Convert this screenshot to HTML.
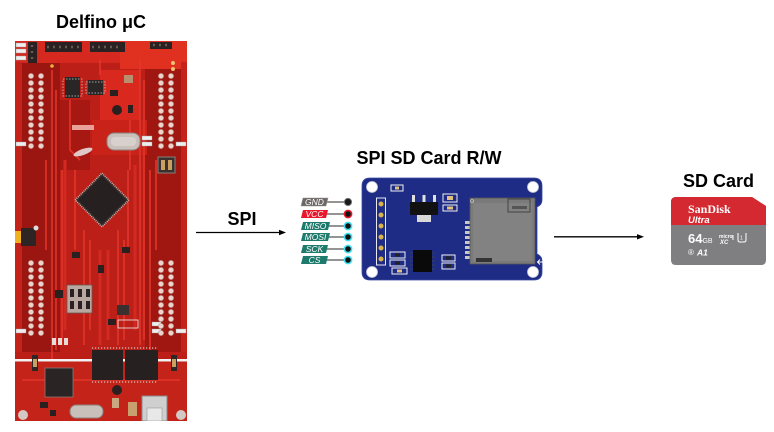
<!DOCTYPE html>
<html>
<head>
<meta charset="utf-8">
<style>
html,body{margin:0;padding:0;background:#fff;}
body{width:774px;height:432px;overflow:hidden;position:relative;}
svg{position:absolute;left:0;top:0;display:block;}
.t{font-family:"Liberation Sans",Arial,sans-serif;font-weight:bold;font-size:18px;fill:#000;}
.pl{font-family:"Liberation Sans",Arial,sans-serif;font-style:italic;font-size:8.5px;fill:#fff;}
</style>
</head>
<body>
<svg width="774" height="432" viewBox="0 0 774 432" xmlns="http://www.w3.org/2000/svg">
<defs>
<clipPath id="sdclip"><path d="M676,197 H752 L766,206 V260 Q766,265 761,265 H676 Q671,265 671,260 V202 Q671,197 676,197 Z"/></clipPath>
<clipPath id="bc"><rect x="15" y="41" width="172" height="380"/></clipPath>
<pattern id="pinA" patternUnits="userSpaceOnUse" x="26" y="72.5" width="10" height="7"><circle cx="5" cy="3.5" r="2.6" fill="#ecd3cc" stroke="#b79088" stroke-width="0.6"/></pattern>
<pattern id="pinB" patternUnits="userSpaceOnUse" x="26" y="259.5" width="10" height="7"><circle cx="5" cy="3.5" r="2.6" fill="#ecd3cc" stroke="#b79088" stroke-width="0.6"/></pattern>
</defs>

<text class="t" x="101" y="28" text-anchor="middle">Delfino μC</text>
<text class="t" x="242" y="225" text-anchor="middle">SPI</text>
<text class="t" x="429" y="164" text-anchor="middle">SPI SD Card R/W</text>
<text class="t" x="718.5" y="187" text-anchor="middle">SD Card</text>

<line x1="196" y1="232.5" x2="280" y2="232.5" stroke="#000" stroke-width="1.3"/>
<polygon points="286,232.5 279,229.8 279,235.2" fill="#000"/>
<line x1="554" y1="236.8" x2="638" y2="236.8" stroke="#000" stroke-width="1.3"/>
<polygon points="644,236.8 637,234.1 637,239.5" fill="#000"/>

<g clip-path="url(#bc)">
<rect x="15" y="41" width="172" height="380" fill="#bb1f18"/>
<rect x="22" y="62" width="38" height="290" fill="#9c1611"/>
<rect x="145" y="62" width="36" height="290" fill="#a01712"/>
<rect x="60" y="100" width="30" height="70" fill="#a81812"/>
<rect x="15" y="362" width="172" height="59" fill="#c4231a"/>
<rect x="15" y="41" width="172" height="22" fill="#d5291f"/>
<rect x="120" y="41" width="67" height="28" fill="#e0301f"/>
<rect x="100" y="70" width="40" height="55" fill="#d9291e"/>
<rect x="92" y="120" width="55" height="35" fill="#c82219"/>
<rect x="15" y="62" width="7" height="290" fill="#c52219"/>
<rect x="181" y="62" width="6" height="290" fill="#c52219"/>
<path d="M52,70V360 M56,90V350 M62,170V345 M140,60V345 M144,80V340 M150,170V350 M84,230V345 M90,240V330 M118,230V345 M124,240V340 M70,100V150L80,160 M130,170V120 M100,60V75 M22,380H180 M75,170V250 M128,170V250 M46,160V250 M156,160V250" stroke="#e2352a" stroke-width="1.6" fill="none"/>
<path d="M65,160V330 M135,165V330 M100,250V345 M108,250V340" stroke="#d22a20" stroke-width="3" fill="none"/>

<rect x="45" y="42" width="37" height="10" fill="#2a2222"/>
<rect x="90" y="42" width="35" height="10" fill="#2a2222"/>
<rect x="150" y="42" width="22" height="7" fill="#2a2222"/>
<rect x="28" y="42" width="9" height="21" fill="#2a2222"/>
<path d="M47,47H81 M92,47H120 M153,45H170 M32,45V61" stroke="#6a5a50" stroke-width="2.4" stroke-dasharray="2 4" fill="none"/>
<g fill="#eee" stroke="#999" stroke-width="0.4">
<rect x="16" y="43" width="10" height="4"/><rect x="16" y="49" width="10" height="4"/><rect x="16" y="56" width="10" height="4"/>
<rect x="16" y="142" width="10" height="4"/><rect x="142" y="136" width="10" height="4"/><rect x="142" y="142" width="10" height="4"/>
<rect x="176" y="142" width="10" height="4"/><rect x="16" y="329" width="10" height="4"/><rect x="152" y="322" width="9" height="4"/>
<rect x="152" y="329" width="9" height="4"/><rect x="176" y="329" width="10" height="4"/>
</g>
<circle cx="52" cy="66" r="1.8" fill="#e8b040"/>
<circle cx="173" cy="63" r="2" fill="#f0c070"/>
<circle cx="173" cy="69" r="2" fill="#f0c070"/>

<rect x="26" y="72.5" width="20" height="77" fill="url(#pinA)"/>
<rect x="156" y="72.5" width="20" height="77" fill="url(#pinA)"/>
<rect x="26" y="259.5" width="20" height="77" fill="url(#pinB)"/>
<rect x="156" y="259.5" width="20" height="77" fill="url(#pinB)"/>

<rect x="65" y="77" width="15" height="21" fill="#2b2626"/>
<rect x="63" y="79" width="19" height="17" fill="none" stroke="#ccc" stroke-width="0.8" stroke-dasharray="1.5 1.5"/>
<rect x="88" y="80" width="15" height="15" fill="#2b2626"/>
<rect x="86" y="82" width="19" height="11" fill="none" stroke="#ccc" stroke-width="0.8" stroke-dasharray="1.5 1.5"/>
<rect x="124" y="75" width="9" height="8" fill="#b89070"/>
<circle cx="117" cy="110" r="5" fill="#2a2020"/>
<rect x="110" y="90" width="8" height="6" fill="#2a2020"/>
<rect x="128" y="105" width="5" height="8" fill="#2a2020"/>
<rect x="107" y="133" width="33" height="17" rx="7" fill="#c9c0bc" stroke="#8a807c" stroke-width="1"/>
<rect x="111" y="137" width="25" height="9" rx="4" fill="#d8d0cc"/>
<rect x="72" y="125" width="22" height="5" fill="#e8a098"/>
<ellipse cx="83" cy="152" rx="10" ry="3" fill="#e0c8c8" transform="rotate(-20 83 152)"/>
<rect x="158" y="157" width="17" height="16" fill="#3a3030" stroke="#8b7f78" stroke-width="1"/>
<rect x="161" y="160" width="4" height="10" fill="#c8a060"/>
<rect x="168" y="160" width="4" height="10" fill="#c8a060"/>

<g transform="rotate(45 102 200)">
<rect x="83" y="181" width="38" height="38" fill="#3a2e2e" stroke="#c8b8b0" stroke-width="1.5" stroke-dasharray="1 1"/>
<rect x="85" y="183" width="34" height="34" fill="#262020"/>
</g>

<rect x="15" y="231" width="7" height="12" fill="#f0b020"/>
<rect x="21" y="228" width="15" height="18" fill="#2e2424"/>
<circle cx="36" cy="228" r="2.5" fill="#ddd"/>
<rect x="72" y="252" width="8" height="6" fill="#2a2020"/>
<rect x="98" y="265" width="6" height="8" fill="#2a2020"/>
<rect x="122" y="247" width="8" height="6" fill="#2a2020"/>
<rect x="55" y="290" width="8" height="8" fill="#2a2020"/>
<rect x="67" y="285" width="25" height="28" fill="#b8a8a0" stroke="#6a5a55" stroke-width="0.8"/>
<path d="M72,289V297 M80,289V297 M88,289V297 M72,301V309 M80,301V309 M88,301V309" stroke="#2a2222" stroke-width="4"/>
<path d="M54,338V345 M60,338V345 M66,338V345" stroke="#e8dcd8" stroke-width="4"/>
<rect x="117" y="305" width="12" height="10" fill="#3a3030"/>
<rect x="108" y="319" width="8" height="6" fill="#2a2020"/>
<rect x="118" y="320" width="20" height="8" fill="none" stroke="#eee" stroke-width="0.8"/>

<rect x="15" y="359" width="172" height="2.5" fill="#f2f2f2"/>
<rect x="92" y="350" width="31" height="30" fill="#262020"/>
<rect x="125" y="350" width="33" height="30" fill="#262020"/>
<path d="M92,348H158 M92,382H158" stroke="#d0c8c0" stroke-width="1.2" stroke-dasharray="1.2 1.8"/>
<rect x="32" y="355" width="6" height="16" fill="#2e2626"/>
<rect x="33" y="359" width="4" height="8" fill="#c8a060"/>
<rect x="171" y="355" width="6" height="16" fill="#2e2626"/>
<rect x="172" y="359" width="4" height="8" fill="#c8a060"/>
<rect x="45" y="368" width="28" height="29" fill="#2a2424" stroke="#8a7a76" stroke-width="0.8"/>
<circle cx="117" cy="390" r="5" fill="#2a2020"/>
<rect x="112" y="398" width="7" height="10" fill="#c8a880"/>
<rect x="128" y="402" width="9" height="14" fill="#c8a070"/>
<rect x="70" y="405" width="33" height="13" rx="6" fill="#c9c0bc" stroke="#8a807c" stroke-width="1"/>
<rect x="142" y="396" width="25" height="25" fill="#cfcfcf" stroke="#8a8a8a" stroke-width="1"/>
<rect x="147" y="408" width="15" height="13" fill="#e8e8e8" stroke="#999" stroke-width="0.6"/>
<circle cx="23" cy="415" r="5" fill="#d4c8c4"/>
<circle cx="181" cy="415" r="5" fill="#d4c8c4"/>
<rect x="40" y="402" width="8" height="6" fill="#2a2020"/>
<rect x="50" y="410" width="6" height="6" fill="#2a2020"/>
</g>

<path d="M326,202H348 M326,214H348 M328,226H348 M328,237H348 M326,249H348 M326,260H348" stroke="#555" stroke-width="1.2"/>
<polygon points="303,198 328,198 326,206 301,206" fill="#6b6665" stroke="#9a9694" stroke-width="0.6"/>
<polygon points="303,210 328,210 326,218 301,218" fill="#e8172c"/>
<polygon points="303,222 330,222 328,230 301,230" fill="#1e7a6c"/>
<polygon points="303,233 330,233 328,241 301,241" fill="#1e7a6c"/>
<polygon points="303,245 328,245 326,253 301,253" fill="#1e7a6c"/>
<polygon points="303,256 328,256 326,264 301,264" fill="#1e7a6c"/>
<text class="pl" x="314.5" y="205.2" text-anchor="middle">GND</text>
<text class="pl" x="314.5" y="217.2" text-anchor="middle">VCC</text>
<text class="pl" x="315.5" y="229.2" text-anchor="middle">MISO</text>
<text class="pl" x="315.5" y="240.2" text-anchor="middle">MOSI</text>
<text class="pl" x="314.5" y="252.2" text-anchor="middle">SCK</text>
<text class="pl" x="314.5" y="263.2" text-anchor="middle">CS</text>
<circle cx="348" cy="202" r="3.6" fill="#1a1a1a" stroke="#777" stroke-width="1"/>
<circle cx="348" cy="214" r="3.6" fill="#111" stroke="#e8172c" stroke-width="1.6"/>
<g fill="#111" stroke="#3fe0f0" stroke-width="1.6">
<circle cx="348" cy="226" r="3.6"/><circle cx="348" cy="237" r="3.6"/><circle cx="348" cy="249" r="3.6"/><circle cx="348" cy="260" r="3.6"/>
</g>

<path d="M370,178 H534 Q542,178 542,186 V200 Q542,205 537,207 V254 Q542,256 542,261 V272 Q542,280 534,280 H370 Q362,280 362,272 V186 Q362,178 370,178 Z" fill="#1e2c86" stroke="#3a4aa0" stroke-width="0.8"/>
<g fill="#fff" stroke="#c8c8d8" stroke-width="0.8">
<circle cx="372" cy="187" r="5.5"/><circle cx="533" cy="187" r="5.5"/><circle cx="372" cy="272" r="5.5"/><circle cx="533" cy="272" r="5.5"/>
</g>
<rect x="376.5" y="198" width="9" height="67" fill="none" stroke="#e8e8f0" stroke-width="1"/>
<path d="M381,204V259.5" stroke="#d8b24a" stroke-width="5" stroke-linecap="round" stroke-dasharray="0 11"/>
<rect x="412" y="195" width="3" height="7" fill="#e0e0e0"/>
<rect x="422.5" y="195" width="3" height="7" fill="#e0e0e0"/>
<rect x="433" y="195" width="3" height="7" fill="#e0e0e0"/>
<rect x="410" y="202" width="28" height="13" fill="#111"/>
<rect x="417" y="215" width="14" height="7" fill="#d8d8d8"/>
<g fill="#1e2c86" stroke="#f0f0f0" stroke-width="1">
<rect x="391" y="185" width="12" height="6"/><rect x="443" y="194" width="14" height="8"/><rect x="443" y="205" width="14" height="6"/>
<rect x="390" y="252" width="15" height="6"/><rect x="390" y="260" width="15" height="6"/><rect x="392" y="268" width="15" height="6"/>
<rect x="442" y="255" width="13" height="6"/><rect x="442" y="263" width="13" height="6"/>
</g>
<g fill="#e0c080">
<rect x="395" y="186.5" width="4" height="3"/><rect x="447" y="196" width="6" height="4"/><rect x="447" y="206.5" width="6" height="3"/><rect x="397" y="269.5" width="5" height="3"/>
</g>
<g fill="#222">
<rect x="395" y="253.5" width="5" height="3"/><rect x="395" y="261.5" width="5" height="3"/><rect x="446" y="256.5" width="5" height="3"/><rect x="446" y="264.5" width="5" height="3"/>
</g>
<path d="M410,253H435 M410,257H435 M410,261H435 M410,265H435 M410,269H435" stroke="#444" stroke-width="0.8"/>
<rect x="413" y="250" width="19" height="22" fill="#0a0a0a"/>
<path d="M467.5,221V259" stroke="#c8c8c8" stroke-width="5" stroke-dasharray="3 2"/>
<rect x="470" y="198" width="65" height="66" fill="#7a7a7a" stroke="#555" stroke-width="0.8"/>
<rect x="473" y="203" width="59" height="58" fill="#828282"/>
<rect x="508" y="199" width="22" height="13" fill="none" stroke="#444" stroke-width="1"/>
<rect x="512" y="206" width="15" height="3" fill="#555"/>
<rect x="476" y="258" width="16" height="4" fill="#333"/>
<circle cx="472" cy="201" r="1.5" fill="none" stroke="#ddd" stroke-width="0.6"/>
<path d="M543,262 L538,262 M540,259.5 L537.5,262 L540,264.5" stroke="#fff" stroke-width="1" fill="none"/>

<g clip-path="url(#sdclip)">
<rect x="671" y="197" width="95" height="68" fill="#7f7f82"/>
<rect x="671" y="197" width="95" height="28" fill="#d42930"/>
</g>
<text x="688" y="213" font-family="'Liberation Serif',serif" font-weight="bold" font-size="12" fill="#fff">SanDisk</text>
<text x="688" y="223" font-family="'Liberation Sans',sans-serif" font-weight="bold" font-style="italic" font-size="9.5" fill="#fff">Ultra</text>
<text x="688" y="243" font-family="'Liberation Sans',sans-serif" font-weight="bold" font-size="13" fill="#fff">64<tspan font-size="7" font-weight="normal">GB</tspan></text>
<text x="719" y="238" font-family="'Liberation Sans',sans-serif" font-weight="bold" font-size="5" fill="#fff">micro</text>
<text x="720" y="244" font-family="'Liberation Sans',sans-serif" font-weight="bold" font-style="italic" font-size="6" fill="#fff">XC</text>
<text x="732" y="240" font-family="'Liberation Sans',sans-serif" font-weight="bold" font-size="7" fill="#fff">I</text>
<path d="M738,233 V240 Q738,242 740,242 H744 Q746,242 746,240 V233" stroke="#fff" stroke-width="1" fill="none"/>
<text x="740" y="239.5" font-family="'Liberation Sans',sans-serif" font-size="5" fill="#fff">1</text>
<text x="688" y="255" font-family="'Liberation Sans',sans-serif" font-size="8" fill="#fff">®</text>
<text x="697" y="255.5" font-family="'Liberation Sans',sans-serif" font-weight="bold" font-style="italic" font-size="8.5" fill="#fff">A1</text>
</svg>
</body>
</html>
